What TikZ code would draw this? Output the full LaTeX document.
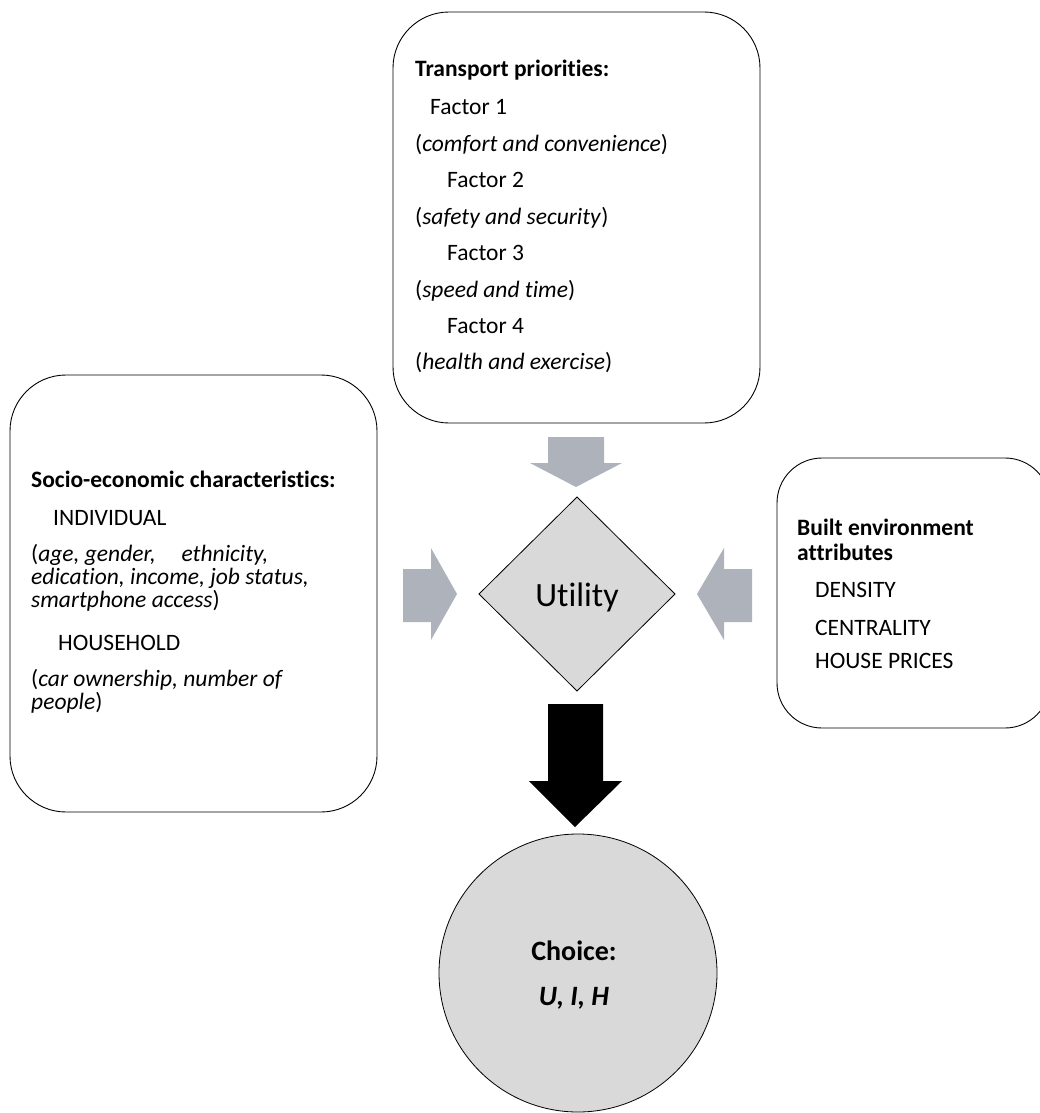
\documentclass[tikz,border=0pt]{standalone}
\usepackage{fontspec}
\setmainfont{Carlito}[Ligatures={NoCommon}]
\usetikzlibrary{shapes.geometric}
\definecolor{arrowgray}{RGB}{174,178,186}
\definecolor{shapegray}{RGB}{217,217,217}
\tikzset{
  box/.style={draw=black, line width=0.9pt},
  txt/.style={anchor=base west, inner sep=0pt, font=\fontsize{23.5}{26}\selectfont},
  btxt/.style={txt, font=\fontsize{23.5}{26}\selectfont\bfseries},
  garrow/.style={fill=arrowgray, draw=none},
  barrow/.style={fill=black, draw=none}
}
\begin{document}
\begin{tikzpicture}[x=1pt,y=-1pt]
\useasboundingbox (0,0) rectangle (1039,1113);
% boxes
\draw[box, rounded corners=56pt] (393,12) rectangle (760,423);
\draw[box, rounded corners=56pt] (10,375) rectangle (377,812);
\draw[box, rounded corners=45pt] (777,458) rectangle (1050,728);
% top box text
\node[btxt] (tp) at (415,77) {Transport priorities:};
\node[txt] (f1) at (430,114) {Factor 1};
\node[txt] (f1d) at (415,151) {(\textit{comfort and convenience})};
\node[txt] (f2) at (447,187) {Factor 2};
\node[txt] (f2d) at (415,224) {(\textit{safety and security})};
\node[txt] (f3) at (447,260) {Factor 3};
\node[txt] (f3d) at (415,297) {(\textit{speed and time})};
\node[txt] (f4) at (447,333) {Factor 4};
\node[txt] (f4d) at (415,369) {(\textit{health and exercise})};
% left box text
\node[btxt] (se) at (31,487) {Socio-economic characteristics:};
\node[txt] (ind) at (53,525) {INDIVIDUAL};
\node[txt] (ind1) at (31,561) {(\textit{age, gender,\hspace{1.1em}ethnicity,}};
\node[txt] (ind2) at (31,584) {\textit{edication, income, job status,}};
\node[txt] (ind3) at (31,607) {\textit{smartphone access})};
\node[txt] (hh) at (58,650) {HOUSEHOLD};
\node[txt] (hh1) at (31,686) {(\textit{car ownership, number of}};
\node[txt] (hh2) at (31,709) {\textit{people})};
% right box text
\node[btxt] (be1) at (797,535) {Built environment};
\node[btxt] (be2) at (797,560) {attributes};
\node[txt] (den) at (815,597) {DENSITY};
\node[txt] (cen) at (815,635) {CENTRALITY};
\node[txt] (hp) at (815,668) {HOUSE PRICES};
% utility diamond
\draw[fill=shapegray, draw=black, line width=0.8pt] (577,497) -- (675,594) -- (577,691) -- (479,594) -- cycle;
\node[inner sep=0pt, anchor=base, font=\fontsize{34}{38}\selectfont] (util) at (577,606) {Utility};
% choice circle
\draw[fill=shapegray, draw=black, line width=0.8pt] (578,973) circle (139);
\node[inner sep=0pt, anchor=base, font=\fontsize{28}{32}\selectfont\bfseries] (ch) at (574,960) {Choice:};
\node[inner sep=0pt, anchor=base, font=\fontsize{28}{32}\selectfont\bfseries\itshape] (uih) at (574,1005) {U, I, H};
% gray arrows
\fill[garrow] (548,437) -- (604,437) -- (604,463) -- (622,463) -- (576,487) -- (530,463) -- (548,463) -- cycle;
\fill[garrow] (403,569) -- (431,569) -- (431,548) -- (457,594) -- (431,640) -- (431,622) -- (403,622) -- cycle;
\fill[garrow] (752,569) -- (724,569) -- (724,548) -- (697,594) -- (724,640) -- (724,622) -- (752,622) -- cycle;
% black arrow
\fill[barrow] (548,704) -- (603,704) -- (603,781) -- (622,781) -- (575,827) -- (529,781) -- (548,781) -- cycle;
\end{tikzpicture}
\end{document}
